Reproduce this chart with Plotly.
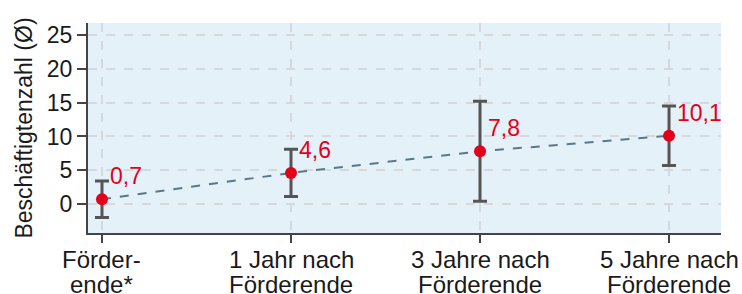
import plotly.graph_objects as go

cat_line1 = ["Förder-", "1 Jahr nach", "3 Jahre nach", "5 Jahre nach"]
cat_line2 = ["ende*", "Förderende", "Förderende", "Förderende"]
values = [0.7, 4.6, 7.8, 10.1]
errors = [2.7, 3.5, 7.4, 4.4]
labels = ["0,7", "4,6", "7,8", "10,1"]
x_pos = [0, 1, 2, 3]
y_ticks = [0, 5, 10, 15, 20, 25]

FONT = "Liberation Sans, Arial"
TXT = "#1a1a1a"

fig = go.Figure()
fig.add_trace(go.Scatter(
    x=x_pos, y=values, mode="lines",
    line=dict(color="#5b7888", width=2, dash="dash"),
    hoverinfo="skip", showlegend=False))
fig.add_trace(go.Scatter(
    x=x_pos, y=values, mode="markers",
    marker=dict(color="#e2001a", size=12),
    error_y=dict(type="data", array=errors, visible=True, color="#555555", thickness=3, width=7),
    showlegend=False))

for xi, v, t in zip(x_pos, values, labels):
    fig.add_annotation(x=xi, y=v, text=t, showarrow=False, xanchor="left", yanchor="middle",
                       xshift=6, yshift=23, font=dict(color="#e2001a", size=23, family=FONT))

for xi, l1, l2 in zip(x_pos, cat_line1, cat_line2):
    fig.add_annotation(x=xi, y=0, xref="x", yref="paper", text=l1, showarrow=False,
                       xanchor="center", yanchor="top", yshift=-11,
                       font=dict(color=TXT, size=24, family=FONT))
    fig.add_annotation(x=xi, y=0, xref="x", yref="paper", text=l2, showarrow=False,
                       xanchor="center", yanchor="top", yshift=-36,
                       font=dict(color=TXT, size=24, family=FONT))

fig.update_layout(
    width=742, height=294,
    margin=dict(l=88, r=21, t=23, b=61),
    paper_bgcolor="white", plot_bgcolor="#e4f1f8",
    font=dict(family=FONT, size=23, color=TXT),
)
fig.update_xaxes(
    range=[-0.074, 3.275], tickvals=x_pos, showticklabels=False,
    showline=True, linecolor="#444444", linewidth=2,
    ticks="outside", ticklen=8, tickcolor="#444444", tickwidth=1.5,
    showgrid=True, gridcolor="#d5d9dc", griddash="dash", gridwidth=1.5,
    zeroline=False, automargin=False,
)
fig.update_yaxes(
    range=[-4.3, 26.8], tickvals=y_ticks,
    tickfont=dict(size=23, family=FONT, color=TXT),
    title=dict(text="Beschäftigtenzahl (Ø)", standoff=8, font=dict(size=23, family=FONT, color=TXT)),
    showline=True, linecolor="#444444", linewidth=2,
    ticks="outside", ticklen=9, tickcolor="#444444", tickwidth=1.5,
    showgrid=True, gridcolor="#d5d9dc", griddash="dash", gridwidth=1.5,
    zeroline=False, automargin=False,
)

fig.write_html("out.html", config={"displayModeBar": False},
               post_script="document.body.style.margin='0';")
